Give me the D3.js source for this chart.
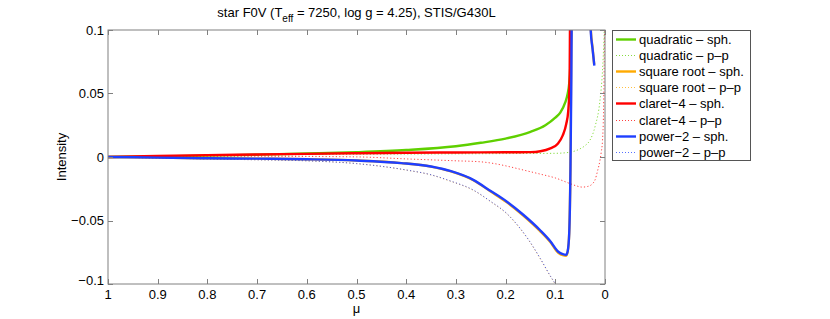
<!DOCTYPE html>
<html><head><meta charset="utf-8">
<script src="https://cdn.jsdelivr.net/npm/d3@7"></script>
<style>body{margin:0;background:#fff}svg{display:block;font-family:"Liberation Sans",Arial,sans-serif}</style>
</head><body><svg id="c" width="830" height="319"></svg>
<script>
// ---- data ----
const xTicks = [1,0.9,0.8,0.7,0.6,0.5,0.4,0.3,0.2,0.1,0];
const xTickLabels = ["1","0.9","0.8","0.7","0.6","0.5","0.4","0.3","0.2","0.1","0"];
const yTicks = [0.1,0.05,0,-0.05,-0.1];
const yTickLabels = ["0.1","0.05","0","\u22120.05","\u22120.1"];

const muQuadSph = [1,0.9,0.8,0.7,0.6,0.5,0.4,0.3,0.25,0.2,0.15,0.12,0.1,0.09,0.08,0.075,0.072,0.07,0.069,0.068,0.067];
const quadSph   = [0,0.0005,0.0011,0.0018,0.0027,0.0038,0.0055,0.0085,0.0112,0.0145,0.0198,0.025,0.031,0.035,0.043,0.05,0.058,0.07,0.085,0.1,0.13];

const muQuadPP = [1,0.9,0.8,0.7,0.6,0.5,0.4,0.3,0.2,0.1,0.07,0.06,0.05,0.04,0.03,0.02,0.01,0.005,0.002,0];
const quadPP   = [0,0.0006,0.0011,0.0015,0.0018,0.0021,0.0023,0.0025,0.0027,0.0029,0.0038,0.0048,0.0065,0.009,0.0134,0.024,0.045,0.068,0.094,0.12];

const muSqrtSph = [1,0.9,0.8,0.7,0.6,0.5,0.41,0.35,0.31,0.265,0.23,0.198,0.165,0.131,0.11,0.094,0.085,0.078,0.075,0.072,0.0695,0.0685,0.0675,0.067,0.032,0.0285,0.025,0.0218];
const sqrtSph   = [0,-0.0005,-0.001,-0.0013,-0.0018,-0.0028,-0.0048,-0.0076,-0.0114,-0.0183,-0.0272,-0.0355,-0.0459,-0.0582,-0.067,-0.0754,-0.0773,-0.0777,-0.0745,-0.06,-0.005,0.055,0.12,0.2,0.2,0.1,0.086,0.073];

const muSqrtPP = [1,0.9,0.8,0.7,0.6,0.5,0.4,0.35,0.31,0.265,0.23,0.198,0.171,0.154,0.13,0.111,0.1,0.09];
const sqrtPP   = [0,-0.0008,-0.0015,-0.0022,-0.003,-0.0052,-0.0103,-0.0141,-0.0192,-0.0262,-0.0352,-0.0446,-0.0563,-0.0653,-0.0803,-0.0933,-0.1003,-0.1083];

const muClaretSph = [1,0.9,0.8,0.7,0.6,0.5,0.4,0.3,0.2,0.15,0.13,0.11,0.095,0.085,0.078,0.074,0.072,0.071,0.0705,0.07];
const claretSph   = [0,0.0008,0.0015,0.002,0.0025,0.003,0.0033,0.0036,0.0037,0.0038,0.0045,0.0068,0.0105,0.017,0.026,0.036,0.05,0.07,0.1,0.13];

const muClaretPP = [1,0.9,0.8,0.7,0.6,0.5,0.4,0.3,0.25,0.15,0.13,0.1,0.07,0.057,0.046,0.035,0.025,0.02,0.015,0.01,0.0075,0.005,0.003,0.002,0.001,0];
const claretPP   = [0,0.0004,0.0006,0.0006,0.0004,0.0001,-0.0015,-0.003,-0.0038,-0.0116,-0.0135,-0.0165,-0.021,-0.0228,-0.0237,-0.0232,-0.021,-0.018,-0.011,-0.0024,0.004,0.013,0.035,0.06,0.1,0.16];

const muPowSph = [1,0.9,0.8,0.7,0.6,0.5,0.41,0.35,0.31,0.265,0.23,0.198,0.165,0.131,0.11,0.094,0.085,0.078,0.075,0.072,0.0695,0.068,0.067,0.0665,0.032,0.0288,0.025,0.0215];
const powSph   = [0,-0.0005,-0.001,-0.0013,-0.0018,-0.0028,-0.0048,-0.0075,-0.0112,-0.018,-0.0268,-0.035,-0.0453,-0.0575,-0.0663,-0.0746,-0.0765,-0.077,-0.074,-0.06,-0.01,0.05,0.11,0.2,0.2,0.1,0.085,0.072];

const muPowPP = [1,0.9,0.8,0.7,0.6,0.5,0.4,0.35,0.31,0.265,0.23,0.198,0.171,0.154,0.13,0.111,0.1,0.09];
const powPP   = [0,-0.0008,-0.0015,-0.0022,-0.003,-0.0052,-0.0102,-0.014,-0.019,-0.026,-0.035,-0.0443,-0.056,-0.065,-0.08,-0.093,-0.1,-0.108];

const seriesNames = ["quadratic \u2013 sph.","quadratic \u2013 p\u2013p","square root \u2013 sph.","square root \u2013 p\u2013p","claret\u22124 \u2013 sph.","claret\u22124 \u2013 p\u2013p","power\u22122 \u2013 sph.","power\u22122 \u2013 p\u2013p"];
const seriesColors = ["#5fd000","#5fd000","#ffaa00","#ffaa00","#ff0000","#ff0000","#1f3fff","#1f3fff"];
const seriesDotted = [false,true,false,true,false,true,false,true];
const seriesMu = [muQuadSph,muQuadPP,muSqrtSph,muSqrtPP,muClaretSph,muClaretPP,muPowSph,muPowPP];
const seriesVal = [quadSph,quadPP,sqrtSph,sqrtPP,claretSph,claretPP,powSph,powPP];

// ---- layout ----
const L=108,R=605,T=30,B=284;
const svg=d3.select("#c");
const x=d3.scaleLinear().domain([1,0]).range([L,R]);
const y=d3.scaleLinear().domain([-0.1,0.1]).range([B,T]);
const axisColor="#808080";

svg.append("defs").append("clipPath").attr("id","clip").append("rect")
  .attr("x",L).attr("y",T).attr("width",R-L).attr("height",B-T);

// series
const line=d3.line().x(d=>x(d[0])).y(d=>y(d[1])).curve(d3.curveMonotoneX);
const g=svg.append("g").attr("clip-path","url(#clip)");
seriesVal.forEach((vals,i)=>{
  const pts=vals.map((v,j)=>[seriesMu[i][j],v]);
  g.append("path").datum(pts).attr("d",line).attr("fill","none")
   .attr("stroke",seriesColors[i])
   .attr("stroke-width",seriesDotted[i]?1:2.4)
   .attr("stroke-opacity",seriesDotted[i]?0.75:1)
   .attr("stroke-dasharray",seriesDotted[i]?"1.2,2.2":null)
   .attr("stroke-linejoin","round");
});

// axes box
const ax=svg.append("g");
ax.append("rect").attr("x",L).attr("y",T).attr("width",R-L).attr("height",B-T)
  .attr("fill","none").attr("stroke",axisColor).attr("stroke-width",1);
const tl=5;
xTicks.forEach((t,i)=>{
  const px=Math.round(x(t))+0.5;
  ax.append("line").attr("x1",px).attr("x2",px).attr("y1",B).attr("y2",B-tl).attr("stroke",axisColor);
  ax.append("line").attr("x1",px).attr("x2",px).attr("y1",T).attr("y2",T+tl).attr("stroke",axisColor);
  ax.append("text").attr("x",x(t)).attr("y",B+15).attr("text-anchor","middle")
    .attr("font-size",13).attr("fill","#000").text(xTickLabels[i]);
});
yTicks.forEach((t,i)=>{
  const py=Math.round(y(t))+0.5;
  ax.append("line").attr("x1",L).attr("x2",L+tl).attr("y1",py).attr("y2",py).attr("stroke",axisColor);
  ax.append("line").attr("x1",R).attr("x2",R-tl).attr("y1",py).attr("y2",py).attr("stroke",axisColor);
  ax.append("text").attr("x",L-4).attr("y",y(t)+(t===-0.1?1:4.5)).attr("text-anchor","end")
    .attr("font-size",13).attr("fill","#000").text(yTickLabels[i]);
});

// axis labels
svg.append("text").attr("x",(L+R)/2).attr("y",313).attr("text-anchor","middle")
  .attr("font-size",13).text("\u03bc");
svg.append("text").attr("transform","translate(66,157) rotate(-90)").attr("text-anchor","middle")
  .attr("font-size",13).text("Intensity");

// title
const title=svg.append("text").attr("x",(L+R)/2).attr("y",17).attr("text-anchor","middle").attr("font-size",13);
title.append("tspan").text("star F0V (T");
title.append("tspan").attr("dy",5).attr("font-size",10).text("eff");
title.append("tspan").attr("dy",-5).text(" = 7250, log g = 4.25), STIS/G430L");

// legend
const lg=svg.append("g");
lg.append("rect").attr("x",612.5).attr("y",30.5).attr("width",138).attr("height",130)
  .attr("fill","#fff").attr("stroke","#555");
seriesNames.forEach((n,i)=>{
  const ly=Math.round(39+i*16.1)+0.5;
  lg.append("line").attr("x1",616).attr("x2",636).attr("y1",ly).attr("y2",ly)
    .attr("stroke",seriesColors[i]).attr("stroke-width",seriesDotted[i]?1:2.4)
    .attr("stroke-opacity",seriesDotted[i]?0.75:1)
    .attr("stroke-dasharray",seriesDotted[i]?"1,2":null);
  lg.append("text").attr("x",639).attr("y",ly+4.5).attr("font-size",13).text(n);
});
</script></body></html>
